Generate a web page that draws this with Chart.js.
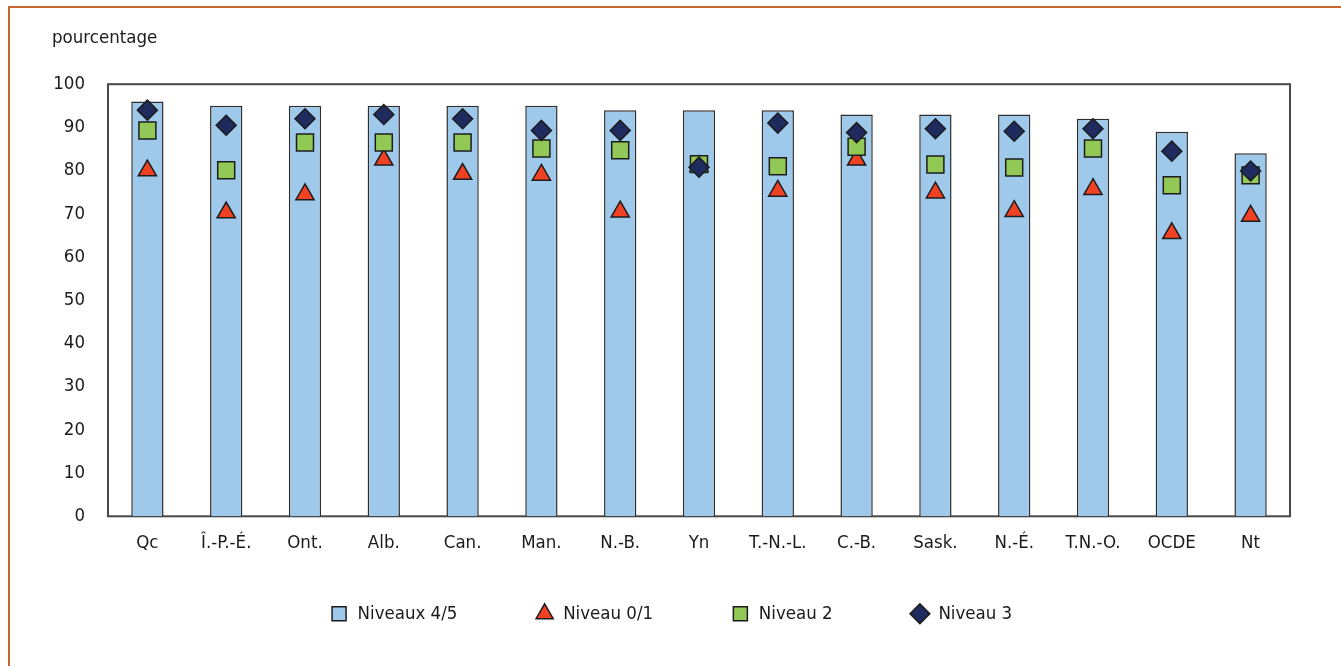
<!DOCTYPE html>
<html lang="fr">
<head>
<meta charset="utf-8">
<title>Niveaux de compétence</title>
<script src="https://cdn.jsdelivr.net/npm/chart.js@4.4.1/dist/chart.umd.min.js"></script>
<style>
    html, body { margin: 0; padding: 0; background: #fff; }
    body { width: 1341px; height: 666px; position: relative; overflow: hidden; }
    #frame {
        position: absolute; left: 8px; top: 6px; width: 1331px; height: 700px;
        border: 2px solid #c8642e; box-sizing: content-box;
    }
    #wrap { position: absolute; left: 0; top: 0; width: 1341px; height: 666px; }
</style>
</head>
<body>
<div id="frame"></div>
<div id="wrap"><canvas id="chart"></canvas></div>
<script>
const categories = ["Qc", "Î.-P.-É.", "Ont.", "Alb.", "Can.", "Man.", "N.-B.", "Yn", "T.-N.-L.", "C.-B.", "Sask.", "N.-É.", "T.N.-O.", "OCDE", "Nt"];
const niveaux45 = [96, 95, 95, 95, 95, 95, 94, 94, 94, 93, 93, 93, 92, 89, 84];
const niveau01 = [80, 70.3, 74.5, 82.5, 79.2, 79, 70.5, 81, 75.3, 82.5, 74.9, 70.6, 75.7, 65.5, 69.5];
const niveau2 = [89.3, 80.1, 86.5, 86.5, 86.5, 85.1, 84.7, 81.5, 81, 85.5, 81.4, 80.7, 85.1, 76.6, 78.9];
const niveau3 = [94, 90.5, 92, 93, 92, 89.3, 89.3, 80.8, 91, 88.8, 89.7, 89.1, 89.7, 84.5, 79.9];
const yTicks = [0, 10, 20, 30, 40, 50, 60, 70, 80, 90, 100];

const outline = "#1c1c1c";
const legendStyles = ["rect", "triangle", "rect", "rectRot"];
const fontSize = 18.5;

Chart.defaults.font.family = "'Liberation Sans Narrow', 'Arial Narrow', 'DejaVu Sans Condensed', sans-serif";
Chart.defaults.font.size = fontSize;
Chart.defaults.color = "#1a1a1a";

// box around the plot area
const plotFrame = {
    id: "plotFrame",
    beforeDatasetsDraw(chart) {
        const { ctx, chartArea: a } = chart;
        ctx.save();
        ctx.strokeStyle = "#484848";
        ctx.lineWidth = 2;
        ctx.strokeRect(a.left, a.top, a.right - a.left, a.bottom - a.top);
        ctx.restore();
    }
};

// the legend uses a wide item gap; pull it back up closer to the axis labels
const legendLift = {
    id: "legendLift",
    afterLayout(chart) {
        const lg = chart.legend;
        if (!lg) return;
        lg.top -= 44;
        lg.bottom -= 44;
    }
};

const markerSet = (label, data, color, style, radius, order) => ({
    type: "line",
    label,
    data,
    showLine: false,
    pointStyle: style,
    pointRadius: radius,
    pointHoverRadius: radius,
    pointBackgroundColor: color,
    pointBorderColor: outline,
    pointBorderWidth: 1.5,
    backgroundColor: color,
    borderColor: outline,
    borderWidth: 1.5,
    order
});

new Chart(document.getElementById("chart"), {
    type: "bar",
    data: {
        labels: categories,
        datasets: [
            {
                label: "Niveaux 4/5",
                data: niveaux45,
                backgroundColor: "#9fc9eb",
                borderColor: "#2e2e2e",
                borderWidth: 1.5,
                barPercentage: 0.41,
                categoryPercentage: 1,
                order: 4
            },
            markerSet("Niveau 0/1", niveau01, "#ef4123", "triangle", 10.5, 3),
            markerSet("Niveau 2", niveau2, "#92c956", "rect", 12, 2),
            markerSet("Niveau 3", niveau3, "#1f2b5e", "rectRot", 10, 1)
        ]
    },
    options: {
        responsive: true,
        maintainAspectRatio: false,
        animation: false,
        layout: { padding: { top: 10, left: 52, right: 51, bottom: -11 } },
        scales: {
            x: {
                grid: { display: false, drawTicks: false },
                border: { display: false },
                ticks: { padding: 16, maxRotation: 0, autoSkip: false }
            },
            y: {
                min: 0,
                max: 100,
                grid: { display: false, drawTicks: false },
                border: { display: false },
                ticks: { padding: 23, stepSize: 10 },
                afterBuildTicks: (scale) => { scale.ticks = yTicks.map(v => ({ value: v })); },
                afterFit: (scale) => { scale.width = 56; }
            }
        },
        plugins: {
            title: {
                display: true,
                text: "pourcentage",
                align: "start",
                font: { size: fontSize, weight: "normal" },
                color: "#1a1a1a",
                padding: { top: 17, bottom: 35 }
            },
            legend: {
                position: "bottom",
                labels: {
                    usePointStyle: true,
                    boxHeight: 14,
                    padding: 78,
                    font: { size: fontSize },
                    sort: (a, b) => a.datasetIndex - b.datasetIndex,
                    generateLabels: (chart) => {
                        const items = Chart.defaults.plugins.legend.labels.generateLabels(chart);
                        items.forEach(item => {
                            item.pointStyle = legendStyles[item.datasetIndex];
                            item.lineWidth = 1.5;
                            item.strokeStyle = outline;
                        });
                        return items;
                    }
                }
            },
            tooltip: { enabled: false }
        }
    },
    plugins: [plotFrame, legendLift]
});
</script>
</body>
</html>
